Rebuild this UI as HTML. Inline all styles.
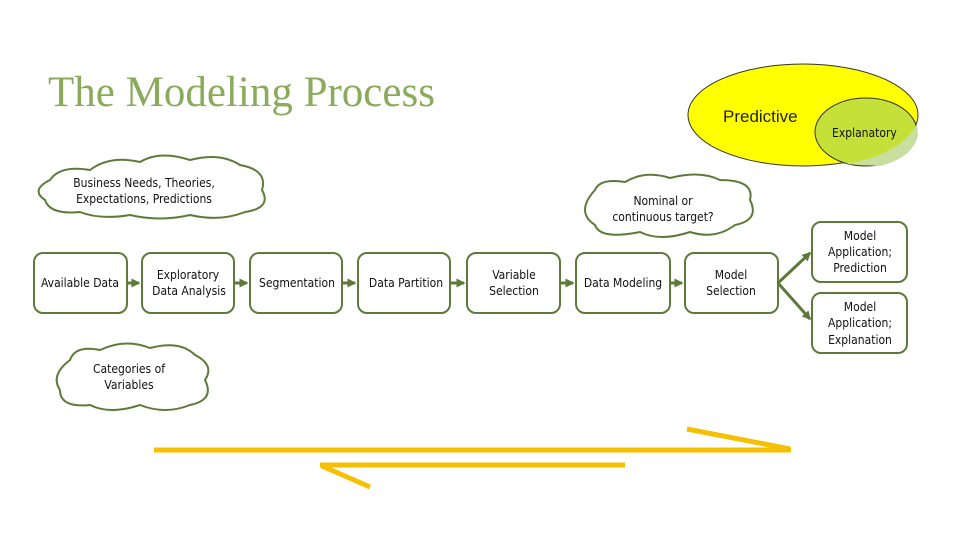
<!DOCTYPE html>
<html><head><meta charset="utf-8"><style>
body{margin:0;background:#fff}
svg text{font-family:"DejaVu Sans Condensed","Liberation Sans Narrow","Liberation Sans",sans-serif;font-size:12px;fill:#111}
</style></head><body>
<svg width="960" height="540" viewBox="0 0 960 540" xmlns="http://www.w3.org/2000/svg">
<defs><marker id="a" markerWidth="3" markerHeight="3" refX="2.5" refY="1.5" orient="auto"><path d="M0,0L3,1.5L0,3z" fill="#5e7a3a"/></marker></defs>
<text x="48" y="106" style="font-family:'Liberation Serif',serif;font-size:43px;fill:#8aab5c">The Modeling Process</text>
<ellipse cx="803" cy="115" rx="115" ry="51" fill="#ffff00" stroke="#333" stroke-width="1"/>
<ellipse cx="866" cy="132" rx="51" ry="34" fill="#c6e03a" stroke="#333" stroke-width="1"/>
<path d="M846,164 Q900,155 917,124 Q922,155 880,166z" fill="#c8dfa0"/>
<text x="723" y="122" style="font-size:17px;font-family:'Liberation Sans',sans-serif;fill:#222">Predictive</text>
<text x="832" y="137">Explanatory</text>
<g fill="#fff" stroke="#5e7a3a" stroke-width="2">
<path d="M50,180 Q60,165 90,170 Q110,155 140,162 Q160,150 190,160 Q220,152 240,165 Q268,170 262,190 Q272,208 245,212 Q220,222 190,215 Q160,222 130,215 Q100,220 80,212 Q50,215 45,200 Q30,190 50,180z"/>
<path d="M595,190 Q600,178 625,182 Q645,170 670,178 Q700,170 720,180 Q755,180 750,200 Q760,220 735,225 Q715,240 690,232 Q660,242 640,232 Q600,240 595,225 Q575,212 595,190z"/>
<path d="M70,360 Q75,345 100,350 Q125,338 150,348 Q180,340 195,355 Q215,365 205,380 Q215,400 190,405 Q165,415 140,405 Q110,415 90,405 Q60,408 60,390 Q50,375 70,360z"/>
<rect x="34" y="253" width="93" height="60" rx="9"/>
<rect x="142" y="253" width="92" height="60" rx="9"/>
<rect x="250" y="253" width="92" height="60" rx="9"/>
<rect x="358" y="253" width="92" height="60" rx="9"/>
<rect x="467" y="253" width="93" height="60" rx="9"/>
<rect x="576" y="253" width="94" height="60" rx="9"/>
<rect x="685" y="253" width="93" height="60" rx="9"/>
<rect x="812" y="222" width="95" height="60" rx="9"/>
<rect x="812" y="293" width="95" height="60" rx="9"/>
</g>
<g stroke="#5e7a3a" stroke-width="3" marker-end="url(#a)">
<line x1="127" y1="283" x2="139" y2="283"/>
<line x1="234" y1="283" x2="247" y2="283"/>
<line x1="342" y1="283" x2="355" y2="283"/>
<line x1="450" y1="283" x2="464" y2="283"/>
<line x1="560" y1="283" x2="573" y2="283"/>
<line x1="670" y1="283" x2="682" y2="283"/>
<line x1="778" y1="283" x2="810" y2="253"/>
<line x1="778" y1="283" x2="810" y2="319"/>
</g>
<g text-anchor="middle">
<text x="144" y="187">Business Needs, Theories,</text>
<text x="144" y="203">Expectations, Predictions</text>
<text x="663" y="205">Nominal or</text>
<text x="663" y="221">continuous target?</text>
<text x="129" y="373">Categories of</text>
<text x="129" y="389">Variables</text>
<text x="80" y="287">Available Data</text>
<text x="188" y="279">Exploratory</text><text x="189" y="295">Data Analysis</text>
<text x="297" y="287">Segmentation</text>
<text x="406" y="287">Data Partition</text>
<text x="514" y="279">Variable</text><text x="514" y="295">Selection</text>
<text x="623" y="287">Data Modeling</text>
<text x="731" y="279">Model</text><text x="731" y="295">Selection</text>
<text x="860" y="240">Model</text><text x="860" y="256">Application;</text><text x="860" y="272">Prediction</text>
<text x="860" y="311">Model</text><text x="860" y="327">Application;</text><text x="860" y="344">Explanation</text>
</g>
<g stroke="#f5c000" stroke-width="5" stroke-linecap="butt">
<line x1="154" y1="450" x2="791" y2="450"/>
<line x1="687" y1="429" x2="790" y2="449"/>
<line x1="320" y1="465" x2="625" y2="465"/>
<line x1="322" y1="466" x2="370" y2="487"/>
</g>
</svg>
</body></html>
